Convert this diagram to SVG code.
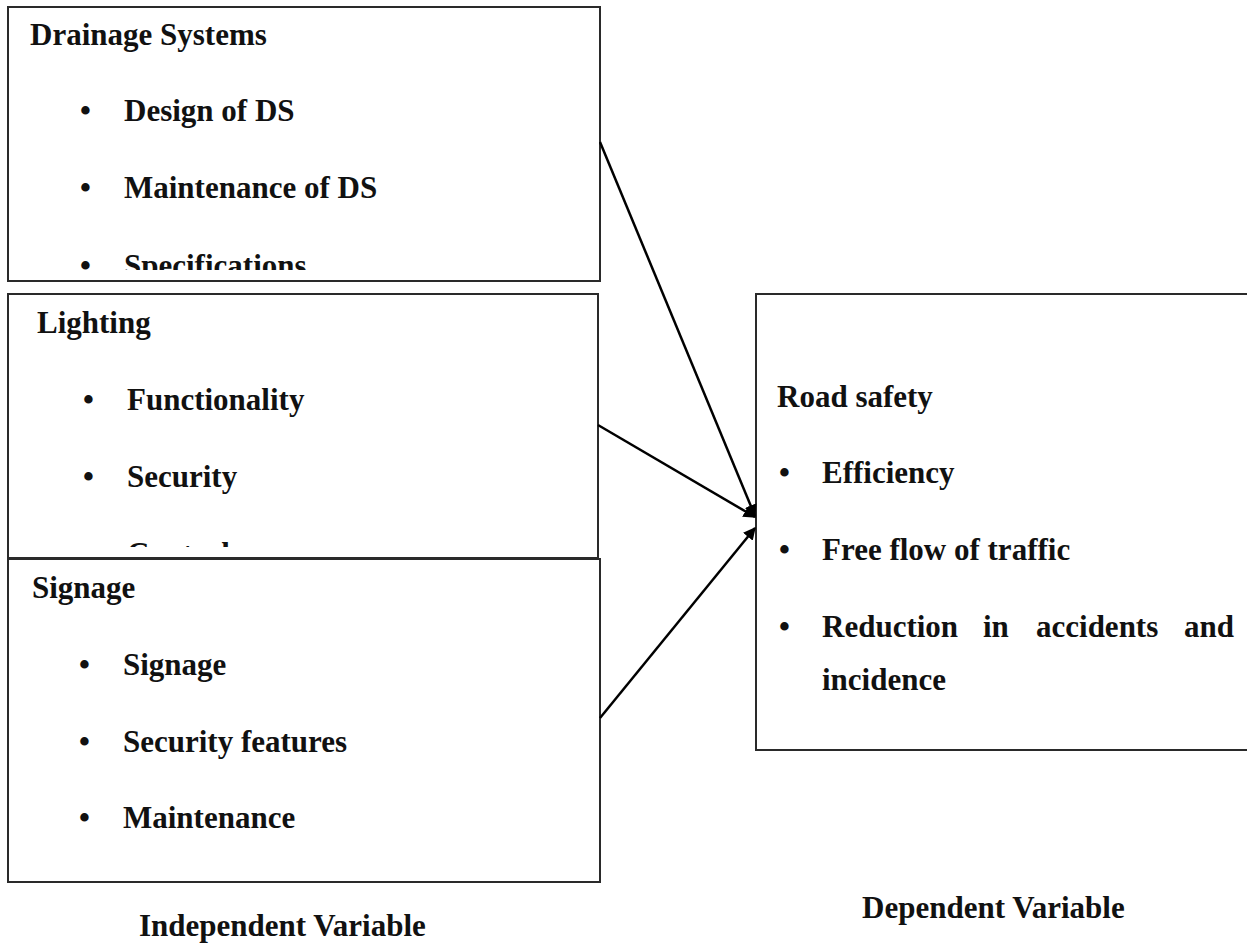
<svg xmlns="http://www.w3.org/2000/svg" width="1247" height="943" viewBox="0 0 1247 943">
<style>
.box{fill:#fff;stroke:#2a2a2a;stroke-width:2}
.t{font-family:"Liberation Serif","Times New Roman",serif;font-weight:bold;font-size:31px;fill:#111}
.conn{stroke:#000;stroke-width:2.5;fill:none}
</style>
<defs>
<marker id="ah" viewBox="0 0 10 10" refX="9" refY="5" markerWidth="5" markerHeight="5" orient="auto" markerUnits="strokeWidth">
<path d="M0,0 L10,5 L0,10 Z" fill="#000"/>
</marker>
<clipPath id="c1"><rect x="8" y="7" width="592" height="263"/></clipPath>
<clipPath id="c2"><rect x="8" y="294" width="590" height="253"/></clipPath>
</defs>
<rect width="1247" height="943" fill="#fff"/>
<g id="drainage">
<rect class="box" x="8" y="7" width="592" height="274"/>
<g clip-path="url(#c1)">
<text class="t" x="30" y="45">Drainage Systems</text>
<text class="t" x="80" y="121">•</text><text class="t" x="124" y="121">Design of DS</text>
<text class="t" x="80" y="198">•</text><text class="t" x="124" y="198">Maintenance of DS</text>
<text class="t" x="80" y="276">•</text><text class="t" x="124" y="276">Specifications</text>
</g>
</g>
<g id="lighting">
<rect class="box" x="8" y="294" width="590" height="264"/>
<g clip-path="url(#c2)">
<text class="t" x="37" y="333">Lighting</text>
<text class="t" x="83" y="410">•</text><text class="t" x="127" y="410">Functionality</text>
<text class="t" x="83" y="487">•</text><text class="t" x="127" y="487">Security</text>
<text class="t" x="83" y="564">•</text><text class="t" x="127" y="564">Control</text>
</g>
</g>
<g id="signage">
<rect class="box" x="8" y="559" width="592" height="323"/>
<text class="t" x="32" y="598">Signage</text>
<text class="t" x="79" y="675">•</text><text class="t" x="123" y="675">Signage</text>
<text class="t" x="79" y="752">•</text><text class="t" x="123" y="752">Security features</text>
<text class="t" x="79" y="828">•</text><text class="t" x="123" y="828">Maintenance</text>
</g>
<g id="road-safety">
<rect class="box" x="756" y="294" width="500" height="456"/>
<text class="t" x="777" y="407">Road safety</text>
<text class="t" x="779" y="483">•</text><text class="t" x="822" y="483">Efficiency</text>
<text class="t" x="779" y="560">•</text><text class="t" x="822" y="560">Free flow of traffic</text>
<text class="t" x="779" y="637">•</text><text class="t" x="822" y="637">Reduction</text><text class="t" x="983" y="637">in</text><text class="t" x="1036" y="637">accidents</text><text class="t" x="1184" y="637">and</text>
<text class="t" x="822" y="690">incidence</text>
</g>
<g id="labels">
<text class="t" x="139" y="936">Independent Variable</text>
<text class="t" x="862" y="918">Dependent Variable</text>
</g>
<g id="connectors">
<line class="conn" x1="600" y1="142" x2="755" y2="516" marker-end="url(#ah)"/>
<line class="conn" x1="598" y1="425" x2="755" y2="517" marker-end="url(#ah)"/>
<line class="conn" x1="600" y1="718" x2="755" y2="528" marker-end="url(#ah)"/>
</g>
</svg>
